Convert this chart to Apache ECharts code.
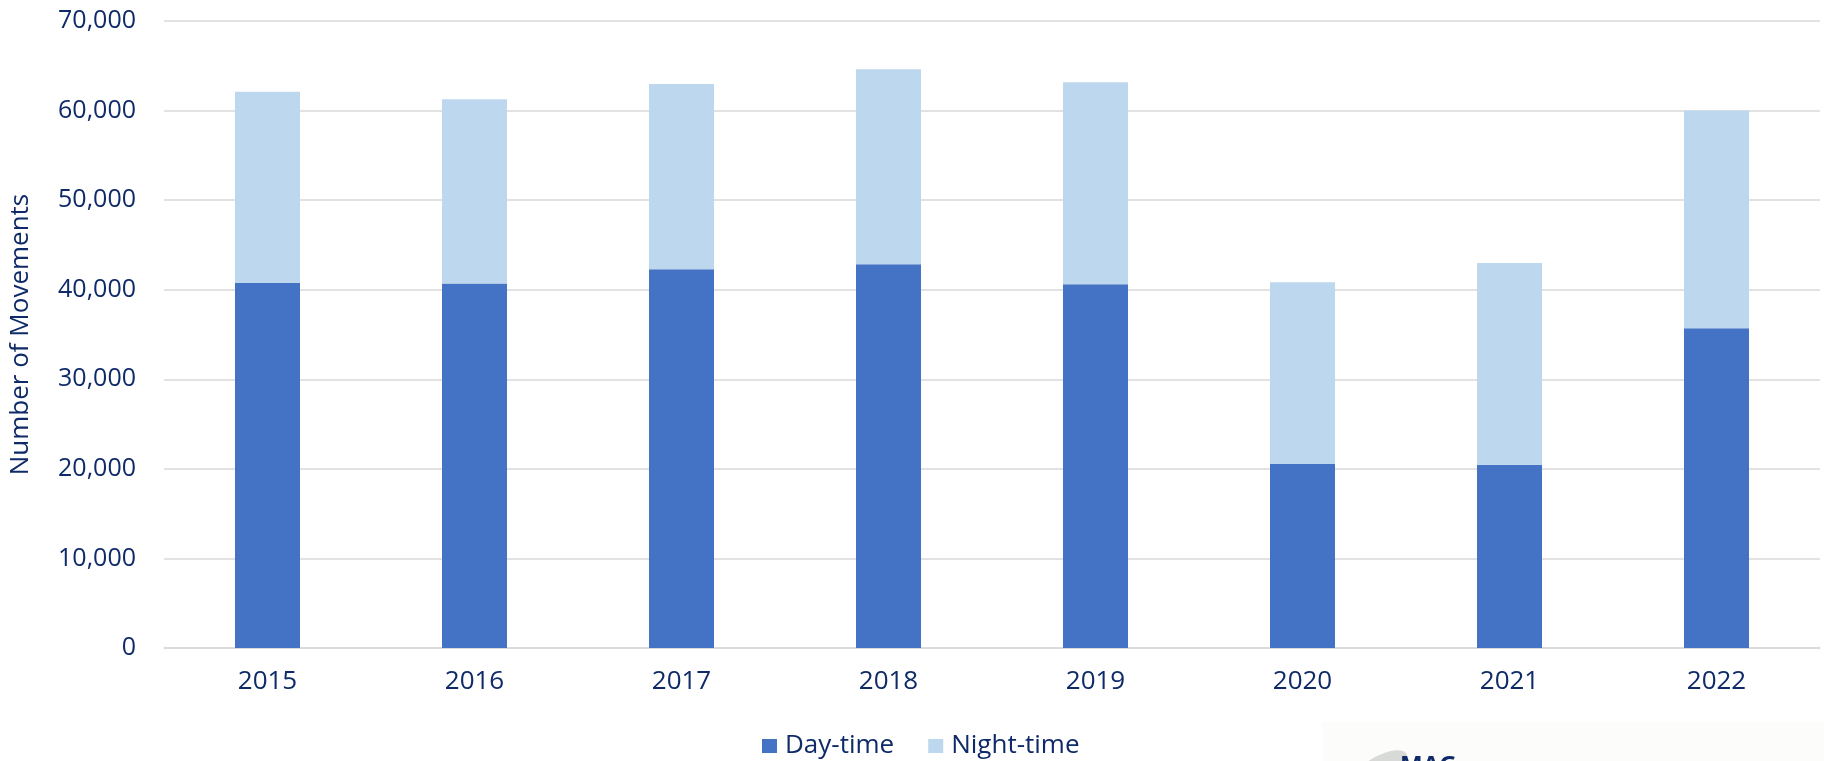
<!DOCTYPE html>
<html>
<head>
<meta charset="utf-8">
<script src="https://cdn.jsdelivr.net/npm/echarts@6/dist/echarts.min.js"></script>
<style>
html,body{margin:0;padding:0;background:#fff;}
#c{width:1824px;height:761px;}
</style>
</head>
<body>
<div id="c"></div>
<script>
var years = ['2015','2016','2017','2018','2019','2020','2021','2022'];
var dayTime = [40750, 40700, 42280, 42840, 40600, 20550, 20450, 35700];
var nightTime = [21350, 20570, 20700, 21780, 22550, 20280, 22530, 24300];
var yTicks = [0, 10000, 20000, 30000, 40000, 50000, 60000, 70000];

var TXT = '#0F2A68';
var FONT = '"Open Sans", "Noto Sans", sans-serif';

var chart = echarts.init(document.getElementById('c'), null, {renderer: 'canvas'});
chart.setOption({
  animation: false,
  backgroundColor: '#ffffff',
  textStyle: {fontFamily: FONT, color: TXT},
  grid: {left: 159, right: 4, top: 21, bottom: 113, containLabel: false},
  legend: {
    data: ['Day-time', 'Night-time'],
    left: 757, top: 728,
    itemWidth: 15, itemHeight: 14, itemGap: 34,
    icon: 'rect',
    textStyle: {fontFamily: FONT, fontSize: 26, color: TXT, padding: [0,0,0,3]}
  },
  xAxis: {
    type: 'category',
    data: years,
    axisLine: {show: true, lineStyle: {color: '#D9D9D9', width: 1.5}},
    axisTick: {show: false},
    axisLabel: {fontFamily: FONT, fontSize: 26, color: TXT, margin: 21}
  },
  yAxis: {
    type: 'value',
    min: yTicks[0], max: yTicks[yTicks.length - 1], interval: 10000,
    name: 'Number of Movements',
    nameLocation: 'middle',
    nameGap: 130,
    nameTextStyle: {fontFamily: FONT, fontSize: 26, color: TXT},
    axisLine: {show: false},
    axisTick: {show: false},
    splitLine: {lineStyle: {color: '#D9D9D9', width: 1.5}},
    axisLabel: {
      fontFamily: FONT, fontSize: 25, color: TXT, margin: 28,
      formatter: function (v) { return v.toLocaleString('en-US'); }
    }
  },
  series: [
    {
      name: 'Day-time', type: 'bar', stack: 'total',
      data: dayTime, barWidth: 65,
      itemStyle: {color: '#4472C4'}
    },
    {
      name: 'Night-time', type: 'bar', stack: 'total',
      data: nightTime, barWidth: 65,
      itemStyle: {color: '#BDD7EE'}
    }
  ],
  graphic: [
    {type: 'rect', left: 1322, top: 722, shape: {width: 502, height: 39}, style: {fill: '#FCFCFB'}, z: -1},
    {type: 'ellipse', shape: {cx: 1380, cy: 768, rx: 30, ry: 12}, rotation: 0.5, originX: 1380, originY: 768, style: {fill: '#D8DAD8'}},
    {type: 'text', left: 1400, top: 754, style: {text: 'MAG', font: 'bold 24px "Open Sans", sans-serif', fill: '#0F2A68'}}
  ]
});
</script>
</body>
</html>
